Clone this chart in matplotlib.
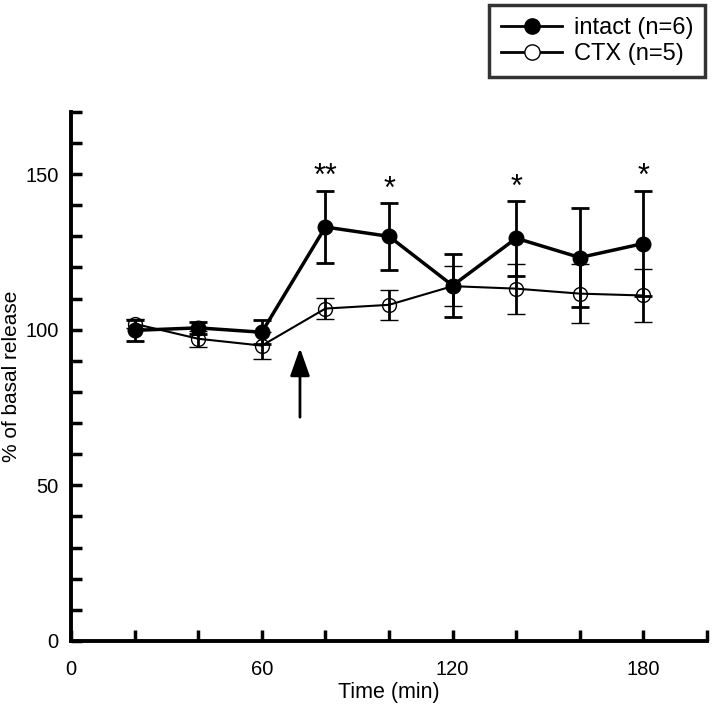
import matplotlib
matplotlib.use("Agg")
import matplotlib.pyplot as plt
from matplotlib.lines import Line2D

plt.rcParams['font.family'] = ['Liberation Sans', 'DejaVu Sans']

time_min = [20, 40, 60, 80, 100, 120, 140, 160, 180]
intact_mean = [99.8, 100.6, 99.2, 133.0, 130.0, 114.2, 129.4, 123.2, 127.7]
intact_sem = [3.4, 1.9, 3.8, 11.7, 10.7, 10.0, 12.0, 16.0, 17.0]
ctx_mean = [101.9, 97.1, 94.9, 106.8, 108.0, 114.0, 113.2, 111.6, 111.0]
ctx_sem = [1.5, 2.6, 4.3, 3.4, 4.8, 6.5, 8.0, 9.4, 8.4]
stars = ['', '', '', '**', '*', '', '*', '', '*']
arrow_time = 72

fig = plt.figure(figsize=(7.13, 7.17), dpi=100)
ax = fig.add_axes([0.0996, 0.106, 0.892, 0.738])

ax.errorbar(time_min, ctx_mean, yerr=ctx_sem, color='black', lw=1.5,
            marker='o', ms=10, mfc='none', mec='black', mew=1.0,
            elinewidth=2.0, capsize=6.8, capthick=2.0, zorder=3)
ax.errorbar(time_min, intact_mean, yerr=intact_sem, color='black', lw=2.5,
            marker='o', ms=10.5, mfc='black', mec='black',
            elinewidth=2.0, capsize=6.8, capthick=2.0, zorder=4)

for t, m, e, s in zip(time_min, intact_mean, intact_sem, stars):
    if s:
        ax.text(t, m + e - 0.5, s, ha='center', va='bottom', fontsize=22)

ax.annotate('', xy=(arrow_time, 95), xytext=(arrow_time, 71),
            arrowprops=dict(arrowstyle='-|>,head_width=0.6,head_length=1.7',
                            color='black', lw=2.0))

ax.set_xlim(0, 200)
ax.set_ylim(0, 170)
ax.set_xticks([0, 20, 40, 60, 80, 100, 120, 140, 160, 180, 200])
ax.set_xticklabels(['0', '', '', '60', '', '', '120', '', '', '180', ''])
ax.set_yticks(range(0, 171, 10))
ax.set_yticklabels([str(v) if v % 50 == 0 else '' for v in range(0, 171, 10)])
ax.tick_params(direction='in', length=8, width=2.5, labelsize=14.5)
ax.tick_params(axis='y', pad=9)
ax.tick_params(axis='x', pad=14)

for side in ['top', 'right']:
    ax.spines[side].set_visible(False)
for side in ['left', 'bottom']:
    ax.spines[side].set_linewidth(2.8)

ax.set_xlabel('Time (min)', fontsize=15.5, labelpad=2)
ax.set_ylabel('% of basal release', fontsize=15)
ax.yaxis.set_label_coords(-0.078, 0.5)

handles = [
    Line2D([], [], color='black', lw=2.0, marker='o', ms=11, mfc='black', mec='black'),
    Line2D([], [], color='black', lw=2.0, marker='o', ms=11, mfc='white', mec='black', mew=1.0),
]
leg = fig.legend(handles, ['intact (n=6)', 'CTX (n=5)'], loc='upper right',
                 bbox_to_anchor=(0.996, 0.999), fontsize=17, frameon=True,
                 fancybox=False, edgecolor='black', handlelength=2.6,
                 borderpad=0.5, labelspacing=0.15, handletextpad=0.5,
                 borderaxespad=0.2)
leg.get_frame().set_linewidth(2.5)

fig.savefig('out.png', dpi=100)
